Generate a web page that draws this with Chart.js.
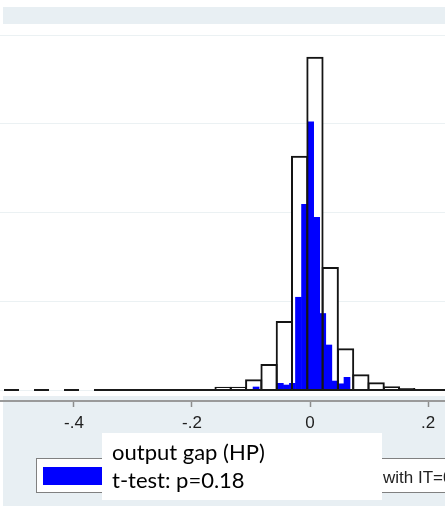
<!DOCTYPE html>
<html><head><meta charset="utf-8">
<script src="https://cdn.jsdelivr.net/npm/chart.js@4.4.1/dist/chart.umd.min.js"></script>
<style>html,body{margin:0;padding:0;background:#fff;overflow:hidden}canvas{display:block}</style>
</head><body>
<canvas id="c" width="445" height="512"></canvas>
<script>
// ---- data ----
const whiteBinCenters = [-0.3029, -0.1473, -0.1213, -0.0954, -0.0694, -0.0435, -0.0176, 0.0084, 0.0343, 0.0603, 0.0862, 0.1121, 0.1381, 0.1640];
const whiteBinHeights = [0.08, 0.37, 0.37, 1.2, 2.93, 7.77, 26.4, 37.56, 13.86, 4.71, 1.77, 0.87, 0.42, 0.23];
const blueBinCenters = [-0.0914, -0.0811, -0.0708, -0.0606, -0.0503, -0.0400, -0.0298, -0.0195, -0.0092, 0.0011, 0.0113, 0.0216, 0.0319, 0.0421, 0.0524, 0.0627];
const blueBinHeights = [0.34, 0, 0, 0, 0.75, 0.56, 0.75, 10.45, 20.92, 30.23, 19.46, 8.62, 5.07, 1.01, 0.70, 1.43];
const baselineDashedX = [-0.5186, -0.3661];
const baselineSolidX = [-0.3661, 0.2288];
const xTickValues = [-0.4, -0.2, 0, 0.2];
const xTickLabels = ['-.4', '-.2', '0', '.2'];
const yGridValues = [0, 10, 20, 30, 40];
const xRange = [-0.5254, 0.2288];
const yRange = [-1.239, 41.24];
const legendVisibleLabel = 'with IT=0';
const noteLines = ['output gap (HP)', 't-test: p=0.18'];

const pts = (xs, ys) => xs.map((x, i) => ({x: x, y: ys ? ys[i] : 0}));

const bgPlugin = {
  id: 'bg',
  beforeDraw(chart) {
    const c = chart.ctx, a = chart.chartArea;
    c.save();
    c.fillStyle = '#ffffff';
    c.fillRect(0, 0, chart.width, chart.height);
    c.fillStyle = '#e8eff3';
    c.fillRect(3, 7, chart.width - 3, 499);
    c.fillStyle = '#ffffff';
    c.fillRect(0, a.top, chart.width, a.bottom - 5 - a.top);
    c.restore();
  }
};

const legendPlugin = {
  id: 'legendBox',
  afterDraw(chart) {
    const c = chart.ctx;
    c.save();
    // Stata legend box
    c.fillStyle = '#ffffff';
    c.fillRect(36, 458, 420, 34);
    c.strokeStyle = '#808080';
    c.lineWidth = 1;
    c.strokeRect(36.5, 458.5, 420, 34);
    c.fillStyle = '#0000ff';
    c.fillRect(43, 467, 60, 18);
    c.fillStyle = '#222222';
    c.font = '17px "Liberation Sans", Arial, sans-serif';
    c.textBaseline = 'alphabetic';
    c.textAlign = 'left';
    c.fillText(legendVisibleLabel, 383, 483);
    // pasted note box
    c.fillStyle = '#ffffff';
    c.fillRect(102, 433, 280, 67);
    c.fillStyle = '#000000';
    c.font = '22px Lato, "Open Sans", sans-serif';
    c.fillText(noteLines[0], 112, 460);
    c.fillText(noteLines[1], 112, 488);
    c.restore();
  }
};

new Chart(document.getElementById('c'), {
  type: 'bar',
  data: {
    datasets: [
      { type: 'line', label: 'baseline', data: pts(baselineSolidX), borderColor: '#1a1a1a', borderWidth: 2, pointRadius: 0, order: 0, xAxisID: 'x', yAxisID: 'y' },
      { type: 'line', label: 'baseline dashed', data: pts(baselineDashedX), borderColor: '#1a1a1a', borderWidth: 2, borderDash: [15, 15], pointRadius: 0, order: 0, xAxisID: 'x', yAxisID: 'y' },
      { label: 'IT=0 outline', data: pts(whiteBinCenters, whiteBinHeights), backgroundColor: 'rgba(0,0,0,0)', borderColor: '#141414', borderWidth: 2, barPercentage: 1.13, categoryPercentage: 1, grouped: false, order: 1, xAxisID: 'x', yAxisID: 'y' },
      { label: 'IT=1', data: pts(blueBinCenters, blueBinHeights), backgroundColor: '#0000ff', borderWidth: 0, barPercentage: 1, categoryPercentage: 1, grouped: false, order: 2, xAxisID: 'x2', yAxisID: 'y' },
      { label: 'IT=0 fill', data: pts(whiteBinCenters, whiteBinHeights), backgroundColor: '#ffffff', borderWidth: 0, barPercentage: 1, categoryPercentage: 1, grouped: false, order: 3, xAxisID: 'x', yAxisID: 'y' }
    ]
  },
  options: {
    responsive: false,
    devicePixelRatio: 1,
    animation: false,
    layout: { padding: { top: 24, left: 0, right: 0, bottom: 0 } },
    plugins: { legend: { display: false }, tooltip: { enabled: false } },
    scales: {
      x: {
        type: 'linear', position: 'bottom', min: xRange[0], max: xRange[1], offset: false,
        afterBuildTicks: a => { a.ticks = xTickValues.map(v => ({value: v})); },
        afterFit: a => { a.height = 111; },
        grid: { offset: false, drawOnChartArea: false, drawTicks: true, tickLength: 6, tickColor: '#8c8c8c', tickWidth: 1.5 },
        border: { display: true, color: '#9a9a9a', width: 2 },
        ticks: { autoSkip: false, maxRotation: 0, padding: 6, color: '#1e1e1e',
          font: { family: '"Liberation Sans", Arial, sans-serif', size: 17 },
          callback: v => xTickLabels[xTickValues.findIndex(t => Math.abs(t - v) < 1e-9)] }
      },
      x2: { type: 'linear', display: false, position: 'bottom', min: xRange[0], max: xRange[1], offset: false },
      y: {
        min: yRange[0], max: yRange[1],
        afterBuildTicks: a => { a.ticks = yGridValues.map(v => ({value: v})); },
        ticks: { display: false },
        grid: { color: '#ebf1f3', lineWidth: 1, drawTicks: false },
        border: { display: false }
      }
    }
  },
  plugins: [bgPlugin, legendPlugin]
});
</script>
</body></html>
